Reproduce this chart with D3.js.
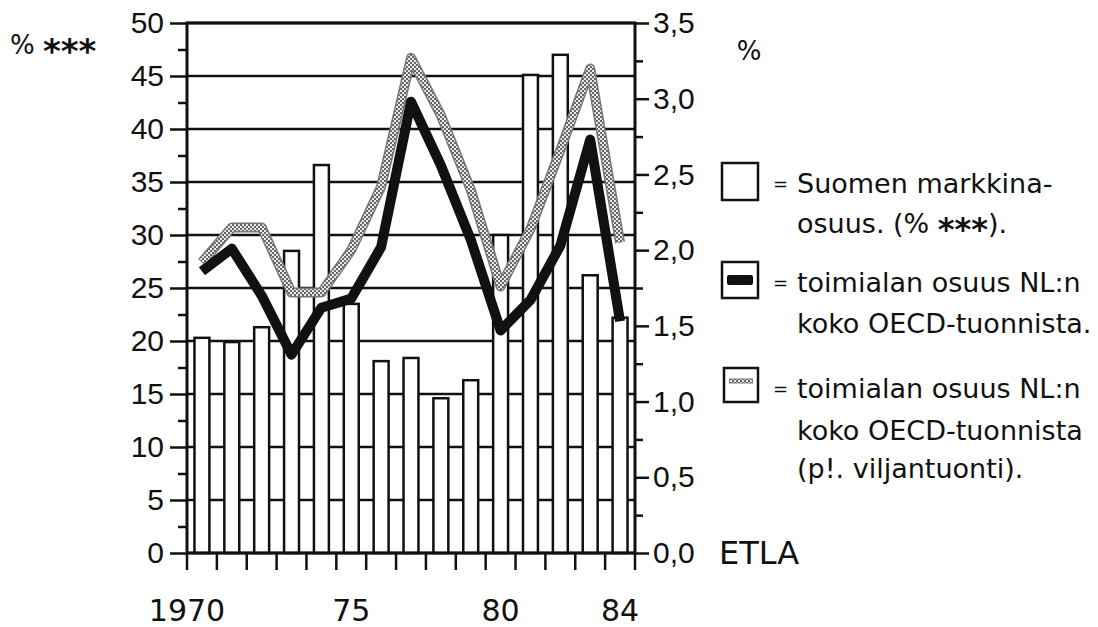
<!DOCTYPE html>
<html>
<head>
<meta charset="utf-8">
<script src="https://cdn.jsdelivr.net/npm/d3@7"></script>
<style>
    body { margin: 0; background: #fff; }
    svg { display: block; font-family: "DejaVu Sans", sans-serif; }
</style>
</head>
<body>
<div id="chart"></div>
<script>
// Data
const years = [1970, 1971, 1972, 1973, 1974, 1975, 1976, 1977, 1978, 1979, 1980, 1981, 1982, 1983, 1984];
const marketShare = [20.3, 19.9, 21.3, 28.5, 36.6, 23.5, 18.1, 18.4, 14.6, 16.3, 30.0, 45.1, 47.0, 26.2, 22.2];
const shareTotal = [1.86, 2.01, 1.70, 1.31, 1.62, 1.68, 2.02, 2.98, 2.56, 2.07, 1.47, 1.67, 2.03, 2.73, 1.53];
const shareExGrain = [1.92, 2.15, 2.15, 1.72, 1.72, 2.00, 2.42, 3.27, 2.89, 2.40, 1.76, 2.14, 2.66, 3.20, 2.05];

const leftTicks = [0, 5, 10, 15, 20, 25, 30, 35, 40, 45, 50];
const rightTicks = [0, 0.5, 1.0, 1.5, 2.0, 2.5, 3.0, 3.5];
const xLabelYears = [1970, 1975, 1980, 1984];
const xLabels = ["1970", "75", "80", "84"];

const legendItems = [
    { lines: ["Suomen markkina-", "osuus. (% ***)."] },
    { lines: ["toimialan osuus NL:n", "koko OECD-tuonnista."] },
    { lines: ["toimialan osuus NL:n", "koko OECD-tuonnista", "(p!. viljantuonti)."] }
];

const width = 1098, height = 627;
const plot = { left: 187, right: 635, top: 23, bottom: 553 };

const svg = d3.select("#chart").append("svg")
    .attr("width", width)
    .attr("height", height);

svg.append("rect").attr("width", width).attr("height", height).attr("fill", "#fff");

// checker pattern for the grey line
const defs = svg.append("defs");
const pat = defs.append("pattern")
    .attr("id", "checker")
    .attr("width", 4).attr("height", 4)
    .attr("patternUnits", "userSpaceOnUse");
pat.append("rect").attr("width", 4).attr("height", 4).attr("fill", "#e8e8e8");
pat.append("rect").attr("width", 2).attr("height", 2).attr("fill", "#666");
pat.append("rect").attr("x", 2).attr("y", 2).attr("width", 2).attr("height", 2).attr("fill", "#666");

// Scales
const x = d3.scaleBand()
    .domain(years)
    .range([plot.left, plot.right])
    .paddingInner(0.5)
    .paddingOuter(0.25);
const step = x.step();
const cx = d => x(d) + x.bandwidth() / 2;

const yL = d3.scaleLinear().domain([0, 50]).range([plot.bottom, plot.top]);
const yR = d3.scaleLinear().domain([0, 3.5]).range([plot.bottom, plot.top]);

// Horizontal grid
svg.append("g")
    .selectAll("line")
    .data(leftTicks)
    .enter()
    .append("line")
    .attr("x1", plot.left).attr("x2", plot.right)
    .attr("y1", d => yL(d)).attr("y2", d => yL(d))
    .attr("stroke", "#111")
    .attr("stroke-width", 2.5);

// Bars
svg.append("g")
    .selectAll("rect")
    .data(years)
    .enter()
    .append("rect")
    .attr("x", d => x(d))
    .attr("y", (d, i) => yL(marketShare[i]))
    .attr("width", x.bandwidth())
    .attr("height", (d, i) => yL(0) - yL(marketShare[i]))
    .attr("fill", "#fff")
    .attr("stroke", "#111")
    .attr("stroke-width", 2.5);

// Axes (left, right, bottom)
const leftAxis = d3.axisLeft(yL)
    .tickValues(leftTicks)
    .tickSize(17)
    .tickPadding(6)
    .tickFormat(d3.format("d"));
const gL = svg.append("g")
    .attr("transform", `translate(${plot.left},0)`)
    .call(leftAxis);
gL.select(".domain").remove();
gL.append("g")
    .call(d3.axisLeft(yL).tickValues(d3.range(2.5, 50, 5)).tickSize(9).tickFormat(""))
    .select(".domain").remove();

const rightAxis = d3.axisRight(yR)
    .tickValues(rightTicks)
    .tickSize(14)
    .tickPadding(4)
    .tickFormat(d => d3.format(".1f")(d).replace(".", ","));
const gR = svg.append("g")
    .attr("transform", `translate(${plot.right},0)`)
    .call(rightAxis);
gR.select(".domain").remove();
gR.append("g")
    .call(d3.axisRight(yR).tickValues(d3.range(0.25, 3.5, 0.5)).tickSize(8).tickFormat(""))
    .select(".domain").remove();

[gL, gR].forEach(g => {
    g.selectAll("line").attr("stroke", "#111").attr("stroke-width", 2.5);
    g.selectAll("text").attr("fill", "#111").attr("font-size", 30);
});

// x ticks at year boundaries
const boundaries = years.map(d => x(d) - step * 0.25).concat([plot.right]);
svg.append("g")
    .selectAll("line")
    .data(boundaries)
    .enter()
    .append("line")
    .attr("x1", d => d).attr("x2", d => d)
    .attr("y1", plot.bottom).attr("y2", plot.bottom + 17)
    .attr("stroke", "#111")
    .attr("stroke-width", 2.5);

svg.append("g")
    .selectAll("text")
    .data(xLabelYears)
    .enter()
    .append("text")
    .attr("x", (d, i) => i === 0 ? x(d) - step * 0.25 : cx(d))
    .attr("y", 621)
    .attr("text-anchor", "middle")
    .attr("font-size", 30)
    .attr("fill", "#111")
    .text((d, i) => xLabels[i]);

// Frame
svg.append("rect")
    .attr("x", plot.left).attr("y", plot.top)
    .attr("width", plot.right - plot.left)
    .attr("height", plot.bottom - plot.top)
    .attr("fill", "none")
    .attr("stroke", "#111")
    .attr("stroke-width", 3);

// Lines
const lineR = (vals) => d3.line()
    .x((d, i) => cx(years[i]))
    .y(d => yR(d))(vals);

svg.append("path")
    .attr("d", lineR(shareExGrain))
    .attr("fill", "none")
    .attr("stroke", "#777")
    .attr("stroke-width", 10)
    .attr("stroke-linejoin", "round");
svg.append("path")
    .attr("d", lineR(shareExGrain))
    .attr("fill", "none")
    .attr("stroke", "url(#checker)")
    .attr("stroke-width", 7)
    .attr("stroke-linejoin", "round");

svg.append("path")
    .attr("d", lineR(shareTotal))
    .attr("fill", "none")
    .attr("stroke", "#111")
    .attr("stroke-width", 10)
    .attr("stroke-linejoin", "round");

// Axis titles
const pctLeft = svg.append("text")
    .attr("x", 10).attr("y", 54)
    .attr("font-size", 26)
    .attr("fill", "#111");
pctLeft.append("tspan").text("% ");
pctLeft.append("tspan").attr("font-size", 34).attr("font-weight", "bold").attr("dy", 9).text("***");

svg.append("text")
    .attr("x", 749).attr("y", 60)
    .attr("text-anchor", "middle")
    .attr("font-size", 26)
    .attr("fill", "#111")
    .text("%");

svg.append("text")
    .attr("x", 719).attr("y", 564)
    .attr("font-size", 32)
    .attr("fill", "#111")
    .text("ETLA");

// Legend
const legendBoxes = [
    { x: 722, y: 163, w: 36, h: 37, rows: [193, 233] },
    { x: 722, y: 262, w: 36, h: 36, rows: [292, 333] },
    { x: 724, y: 368, w: 34, h: 34, rows: [398, 440, 478] }
];
const textX = 797;

legendItems.forEach((item, k) => {
    const b = legendBoxes[k];
    const g = svg.append("g");
    g.append("rect")
        .attr("x", b.x).attr("y", b.y)
        .attr("width", b.w).attr("height", b.h)
        .attr("fill", "#fff")
        .attr("stroke", "#111")
        .attr("stroke-width", 2.5);
    if (k === 1) {
        g.append("rect")
            .attr("x", b.x + 5).attr("y", b.y + b.h / 2 - 5)
            .attr("width", b.w - 10).attr("height", 10)
            .attr("rx", 2)
            .attr("fill", "#111");
    }
    if (k === 2) {
        g.append("line")
            .attr("x1", b.x + 5).attr("x2", b.x + b.w - 5)
            .attr("y1", b.y + b.h / 2 - 4).attr("y2", b.y + b.h / 2 - 4)
            .attr("stroke", "#777").attr("stroke-width", 5);
        g.append("line")
            .attr("x1", b.x + 6).attr("x2", b.x + b.w - 6)
            .attr("y1", b.y + b.h / 2 - 4).attr("y2", b.y + b.h / 2 - 4)
            .attr("stroke", "url(#checker)").attr("stroke-width", 3);
    }
    g.append("text")
        .attr("x", 773).attr("y", b.rows[0] - 3)
        .attr("font-size", 18)
        .attr("fill", "#111")
        .text("=");
    item.lines.forEach((line, j) => {
        const t = g.append("text")
            .attr("x", textX).attr("y", b.rows[j])
            .attr("font-size", 27)
            .attr("fill", "#111");
        if (line.includes("***")) {
            const parts = line.split("***");
            t.append("tspan").text(parts[0]);
            t.append("tspan").attr("font-size", 32).attr("font-weight", "bold").attr("dy", 7).text("***");
            t.append("tspan").attr("dy", -7).text(parts[1]);
        } else {
            t.text(line);
        }
    });
});
</script>
</body>
</html>
